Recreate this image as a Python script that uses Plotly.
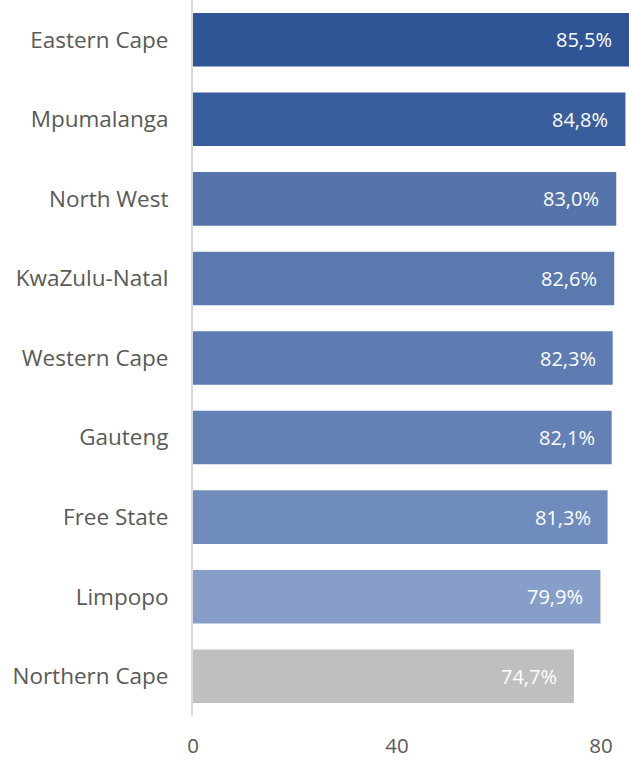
import plotly.graph_objects as go

provinces = ["Eastern Cape", "Mpumalanga", "North West", "KwaZulu-Natal", "Western Cape",
             "Gauteng", "Free State", "Limpopo", "Northern Cape"]
values = [85.5, 84.8, 83.0, 82.6, 82.3, 82.1, 81.3, 79.9, 74.7]
labels = ["85,5%", "84,8%", "83,0%", "82,6%", "82,3%", "82,1%", "81,3%", "79,9%", "74,7%"]
colors = ["#2F5597", "#3A5E9C", "#5574AB", "#5A79AF", "#5E7CB2", "#6481B5", "#708CBD", "#879FC8", "#BFBFBF"]
tickvals = [0, 40, 80]

fig = go.Figure(go.Bar(
    x=values, y=provinces, orientation="h",
    marker=dict(color=colors, line=dict(width=0)),
    hoverinfo="skip",
))
for v, p, t in zip(values, provinces, labels):
    fig.add_annotation(x=v, y=p, text=t, xanchor="right", xshift=-15, showarrow=False,
                       font=dict(family="Open Sans", size=20, color="white"))

fig.update_layout(
    width=629, height=759,
    margin=dict(l=193, r=0, t=0, b=43),
    paper_bgcolor="white", plot_bgcolor="white",
    bargap=0.327, showlegend=False,
    font=dict(family="Open Sans", color="#595959"),
    xaxis=dict(range=[0, 85.5], tickvals=tickvals, showgrid=False, zeroline=False,
               showline=False, tickfont=dict(size=20.5, color="#595959"), ticks="",
               automargin=False, ticklabelstandoff=15),
    yaxis=dict(autorange="reversed", showline=True, linecolor="#D9D9D9", linewidth=2,
               ticks="", ticklabelstandoff=18, tickfont=dict(size=22.5, color="#595959"),
               automargin=False),
)
fig.write_html("out.html", config={"displayModeBar": False},
               post_script="document.body.style.margin='0';document.body.style.overflow='hidden';")
